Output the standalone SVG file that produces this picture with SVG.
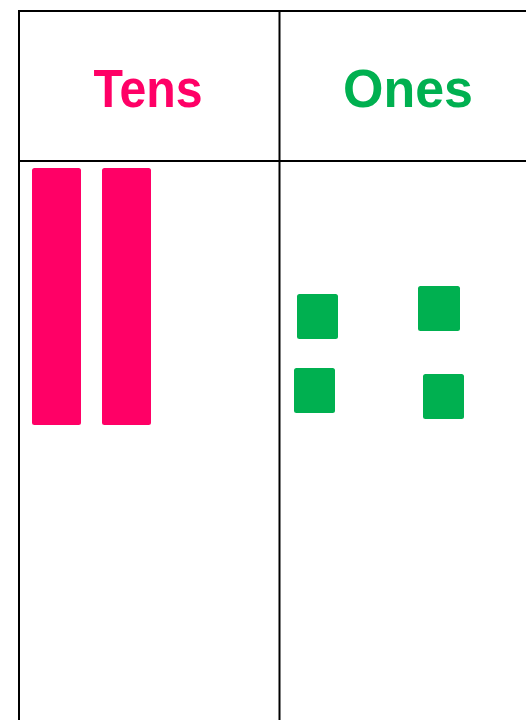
<svg xmlns="http://www.w3.org/2000/svg" width="526" height="720" viewBox="0 0 526 720">
<style>
.grid{stroke:#000;stroke-width:2;fill:none}
.hdr{font-family:"Liberation Sans",Arial,sans-serif;font-weight:bold;font-size:54px;text-anchor:middle}
.ten{fill:#FF0066}
.one{fill:#00B050}
</style>
<rect width="526" height="720" fill="#fff"/>
<g id="grid">
<path class="grid" d="M19,720 V11 H526 M279.5,11 V720 M19,161 H526"/>
</g>
<g id="header-tens"><text class="hdr ten" x="148" y="107" textLength="109" lengthAdjust="spacingAndGlyphs">Tens</text></g>
<g id="header-ones"><text class="hdr one" x="408" y="107" textLength="130" lengthAdjust="spacingAndGlyphs">Ones</text></g>
<g id="ten-rod-1"><rect class="ten" x="32" y="168" width="49" height="257" rx="2.5"/></g>
<g id="ten-rod-2"><rect class="ten" x="102" y="168" width="49" height="257" rx="2.5"/></g>
<g id="one-1"><rect class="one" x="297" y="294" width="41" height="45" rx="2.5"/></g>
<g id="one-2"><rect class="one" x="418" y="286" width="42" height="45" rx="2.5"/></g>
<g id="one-3"><rect class="one" x="294" y="368" width="41" height="45" rx="2.5"/></g>
<g id="one-4"><rect class="one" x="423" y="374" width="41" height="45" rx="2.5"/></g>
</svg>
